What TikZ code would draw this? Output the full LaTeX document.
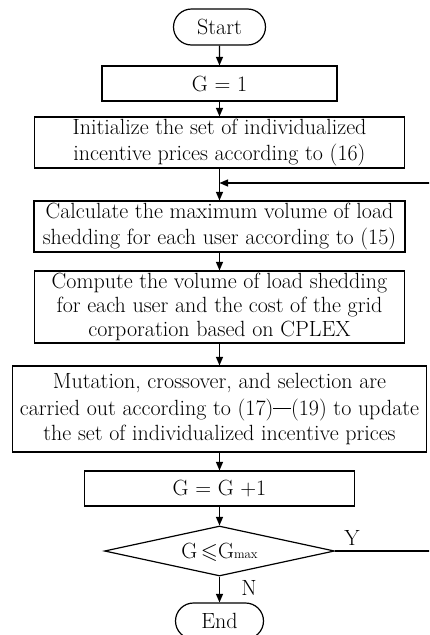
\documentclass[tikz,border=0pt]{standalone}
\usepackage{fontspec}
\usepackage{amssymb}
\usetikzlibrary{arrows.meta,shapes.geometric,shapes.misc}
\begin{document}
\begin{tikzpicture}[x=1pt,y=-1pt,
  every node/.style={font=\fontsize{22}{25.5}\selectfont, inner sep=0pt},
  box/.style={draw, line width=1.2pt, align=center},
  term/.style={draw, line width=1.2pt, rounded rectangle},
  decision/.style={draw, line width=1.2pt, diamond},
  arr/.style={line width=1.2pt, -{Triangle[length=8.5pt,width=7pt]}},
  lbl/.style={font=\fontsize{22}{25}\selectfont}]
\clip (0,0) rectangle (429,635);

% process chain
\node[term, minimum width=92pt, minimum height=36pt] (start) at (219.5,27) {Start};
\node[box, minimum width=235pt, minimum height=35pt] (g1) at (219.5,83.5) {G = 1};
\node[box, minimum width=370pt, minimum height=51pt] (init) at (219.5,142.5)
  {Initialize the set of individualized\\incentive prices according to (16)};
\node[box, minimum width=371pt, minimum height=51pt] (calc) at (219.5,226.5)
  {Calculate the maximum volume of load\\shedding for each user according to (15)};
\node[box, minimum width=370pt, minimum height=72pt, font=\fontsize{22}{24.3}\selectfont] (comp) at (219.5,307)
  {Compute the volume of load shedding\\for each user and the cost of the grid\\corporation based on CPLEX};
\node[box, minimum width=414pt, minimum height=86pt] (mut) at (219.5,409)
  {Mutation, crossover, and selection are\\[1.5pt]carried out according to (17)\rule[0.3em]{0.8em}{0.7pt}(19) to update\\the set of individualized incentive prices};
\node[box, minimum width=270pt, minimum height=35pt] (gg) at (219.5,488.5) {G = G +1};
% the condition text is given no size of its own, so the diamond keeps its set size
\node[decision, minimum width=230pt, minimum height=50pt] (dec) at (219.5,551)
  {\smash{\raisebox{-7.5pt}{\makebox[0pt]{G\,$\leqslant$G{\fontsize{13}{13}\selectfont max}}}}};
\node[term, minimum width=88pt, minimum height=36pt] (stop) at (219.5,621) {End};

% branch labels
\node[lbl] (ylab) at (352,538) {Y};
\node[lbl] (nlab) at (249,588) {N};

% loop re-entry point and the outer return path
\coordinate (join) at (219.5,183);
\coordinate (farR) at (434,551);

% connectors
\draw[arr] (start) -- (g1);
\draw[arr] (g1) -- (init);
\draw[arr] (init) -- (calc);
\draw[arr] (calc) -- (comp);
\draw[arr] (comp) -- (mut);
\draw[arr] (mut) -- (gg);
\draw[arr] (gg) -- (dec);
\draw[arr] (dec) -- (stop);
\draw[arr] (dec.east) -- (farR) |- (join);
\end{tikzpicture}
\end{document}
